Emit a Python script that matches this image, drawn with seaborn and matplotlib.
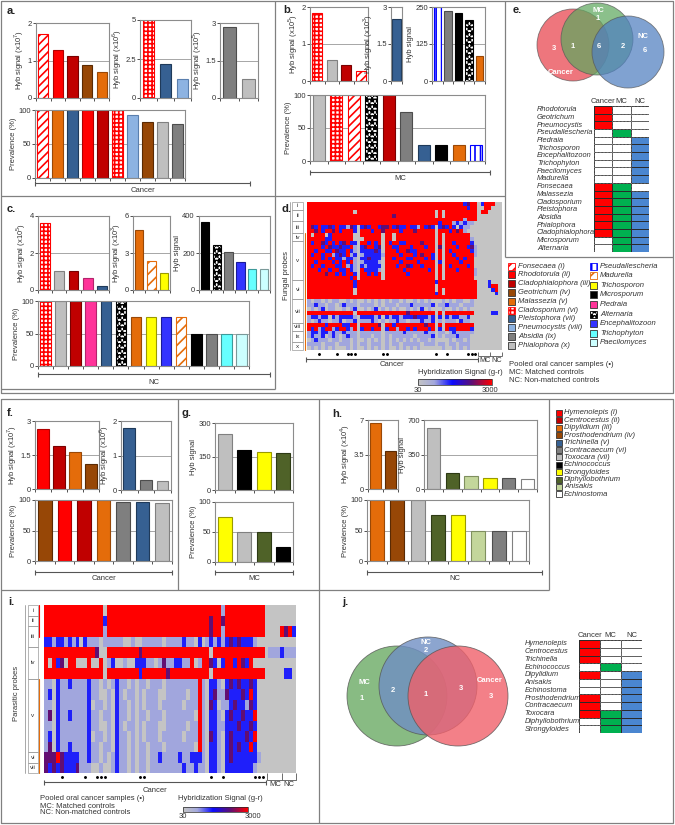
import matplotlib
matplotlib.use("Agg")
import matplotlib.pyplot as plt
from matplotlib.colors import LinearSegmentedColormap, ListedColormap
from matplotlib.patches import Circle, Rectangle
import numpy as np
import pandas as pd
import seaborn as sns

W, H = 675, 825

sns.set_theme(style="white")
plt.rcParams["font.family"] = ["Liberation Sans", "DejaVu Sans"]
plt.rcParams["hatch.linewidth"] = 1.2
plt.rcParams["mathtext.fontset"] = "custom"
plt.rcParams["mathtext.rm"] = "Liberation Sans"

# ---------------- data: fungi ----------------
a_sig7_names = ["Fonsecaea", "Rhodotorula", "Cladophialophora", "Geotrichum", "Malassezia"]
a_sig7_vals = [1.72, 1.28, 1.13, 0.89, 0.70]
a_sig6_names = ["Cladosporium", "Pleistophora", "Pneumocystis"]
a_sig6_vals = [5.0, 2.2, 1.2]
a_sig5_names = ["Absidia", "Phialophora"]
a_sig5_vals = [2.85, 0.75]
a_prev_names = ["Fonsecaea", "Malassezia", "Pleistophora", "Rhodotorula", "Cladophialophora",
                "Cladosporium", "Pneumocystis", "Geotrichum", "Phialophora", "Absidia"]
a_prev_vals = [100, 100, 100, 100, 100, 100, 93, 83, 82, 80]

b_sig5_names = ["Cladosporium", "Phialophora", "Cladophialophora", "Fonsecaea"]
b_sig5_vals = [1.85, 0.58, 0.42, 0.27]
b_sig3_names = ["Pleistophora"]
b_sig3_vals = [2.5]
b_sig_names = ["Pseudallescheria", "Absidia", "Microsporum", "Alternaria", "Malassezia"]
b_sig_vals = [250, 235, 230, 205, 85]
b_prev_names = ["Phialophora", "Cladosporium", "Fonsecaea", "Alternaria", "Cladophialophora",
                "Absidia", "Pleistophora", "Microsporum", "Malassezia", "Pseudallescheria"]
b_prev_vals = [100, 100, 100, 100, 100, 75, 25, 25, 25, 25]

c_sig5_names = ["Cladosporium", "Phialophora", "Cladophialophora", "Piedraia", "Pleistophora"]
c_sig5_vals = [3.6, 1.05, 1.02, 0.65, 0.2]
c_sig3_names = ["Malassezia", "Madurella", "Trichosporon"]
c_sig3_vals = [4.85, 2.35, 1.4]
c_sig_names = ["Microsporum", "Alternaria", "Absidia", "Encephalitozoon", "Trichophyton", "Paecilomyces"]
c_sig_vals = [370, 245, 205, 150, 115, 115]
c_prev_names = ["Cladosporium", "Phialophora", "Cladophialophora", "Piedraia", "Pleistophora",
                "Alternaria", "Malassezia", "Trichosporon", "Encephalitozoon", "Madurella",
                "Microsporum", "Absidia", "Trichophyton", "Paecilomyces"]
c_prev_vals = [100, 100, 100, 100, 100, 100, 75, 75, 75, 75, 50, 50, 50, 50]

e_probes = ["Rhodotorula", "Geotrichum", "Pneumocystis", "Pseudallescheria", "Piedraia",
            "Trichosporon", "Encephalitozoon", "Trichophyton", "Paecilomyces", "Madurella",
            "Fonsecaea", "Malassezia", "Cladosporium", "Pleistophora", "Absidia",
            "Phialophora", "Cladophialophora", "Microsporum", "Alternaria"]
e_cancer = [1, 1, 1, 0, 0, 0, 0, 0, 0, 0, 1, 1, 1, 1, 1, 1, 1, 0, 0]
e_mc = [0, 0, 0, 1, 0, 0, 0, 0, 0, 0, 1, 1, 1, 1, 1, 1, 1, 1, 1]
e_nc = [0, 0, 0, 0, 1, 1, 1, 1, 1, 1, 0, 1, 1, 1, 1, 1, 1, 1, 1]
e_venn_counts = {"cancer": "3", "c_mc": "1", "all": "6", "mc_nc": "2", "nc": "6", "mc": "1"}

# heatmap d (g=grey, l=light blue, b=blue, p=purple, r=red); 48 cancer | 3 MC 4 NC
d_rows = [
    "rrrrrrrr rrrrrrrr rrrrrrrr rrrrrrrr rrrrrrrr rrrrbprr | gbr rrgg",
    "rrrrrrrr rrrrrrrr rrrrrrrr rrrrrrrr rrrrrrrr rrrrrbrr | ggr rggg",
    "rrrrrrrr rrrrrgrr rrrrrrrr rrrrrrrr rrrrgrgr rrrrrrrr | grr gggg",
    "rrrrrrrr rrrrrrrr rrrrrrrr prrrrrrr rrrrgrgr rrrrrrrr | ggg gggg",
    "rrrrrrrr rrrrrrrr rrrrrrrr rrrrrrrr rrrrrrrr rrrrlrrr | ggg gggg",
    "rrrrrrrr rrrrrrrr rrrrrrrr rrrrrrrr rrrrrbrr rlblbllg | ggg gggg",
    "rpbrbbpb rbblpbgb pbrrbppr bpbbrbbl rbpbgbpb rbgbllgg | ggg gggg",
    "rrprbrrp rbrrrbgr rrbrrprr rrbrrrpr rrrrgrrr brprlggg | ggg gggg",
    "rgrrrgbr rrrrrggr rrrrrgrr grrrrrrr rrrrgrgr rrrrrrgg | ggg gggg",
    "rrrrrbbr rrrrrggg rrrrrgrr grrrrrrr rrrrgrgr rrrrrrlg | ggg gggg",
    "rbrrpbrb rbprbbgr rbrbrgrb rrbbrrrr prrrgrgr rbrrrrbg | ggg gggg",
    "rrrrbrpb bpbbrlgb prrbpgrr bbrrrbrr rbrrgpgr rrbrrbpl | ggg gggg",
    "rrbrrbbr pbbrblgb bbbpbgrr rbrrpbbr rrrrgrgr brrrrrbl | ggg gggg",
    "rbrrbrrl bpbrlbgl bbbbblrr rrbrrrbr prrbgrgr rbrrrrrl | ggg gggg",
    "rrrrbrbr bblbblgb bpbbbgrr brrrbbrr rbrbgrgr rrbrbrrg | ggg gggg",
    "rrbrrrrb rbrbrlgl bbbblgrr rrbrrrrb rrrrgbgr rrrbrrrg | ggg gggg",
    "rbrrbrrr bbrlblgb lbbbbgrr rbrrpbrr brrrgrgr brrrrbrg | ggg gggg",
    "rrrbrrbr rbbrblgr bbbblgrr rrrbrrrr rrbrgrgr rrbrrrrl | ggg gggg",
    "rrrrrprr brbrrbgr rbrbrgrr rrrrbrrr rrrrgrgr rrrrrrrl | ggg gggg",
    "rrrrrrrr rrrrbrgr rrrrrgrr rrrrrrrr rrrrgrgr rrrrrrrg | ggg gggg",
    "rrrrrrrr rrrrrbrr rrrrrrrr rrrrrrrr rrrrbrrr rrrrrrrr | ggg bggg",
    "rrrrrrrr rrrrrbrr rrrrrrrr rrrrrrrr rrrrgrrr rrrrrrrr | ggg brrg",
    "rrrrrrrr rrrrrgrr rrrrrrrr rrrrrrrr rrrrgrgr rrrrrrrr | ggg gbrg",
    "rrrrrrrr rrrrrgrr rrrrrrrr rrrrrrrr rrrrbrgr rrrrrrrr | ggg ggbg",
    "rrrrrrrr rrrrrrrr rrrrrrrr rrrrrrrr rrrrrrrr rrrrrrrr | ggg gggg",
    "lgllglgl lgglglgg lglglglg llglgglg lglggglg lgllgglg | ggg gggg",
    "llbllgll glblllgl lllglgll lglllbll lllbgllb lllglllg | ggg gggg",
    "glglbgll gglglbgg lglbglgl glgglglg bglggglg glglglgg | ggg gggg",
    "rrrrrrrr rrrrrgrr rrrrrrrr rrrrprrr rrrrgrgr rrrrrrrg | ggg gbbg",
    "lbblbbgb lbbbblgb bbblbgbl bblbbbpb bblbgbgb lbbllbgg | ggg gggg",
    "lglbllgl lbgllbgl llblglgl lbllglll bllbglgl llgbllgg | ggg gggg",
    "rrrrrbrr rrbbrrgr rrrrpgrr brrrrrrr rprrgrgr rrrrrrrg | ggg gggg",
    "rbrlbrrl brrblrgb rrbrrgbr rlrrbrbr rrbrgbgr bbrrrrbg | ggg gggg",
    "lbblbblb llblllgl lllllgll lllbllll lbllgllg lblllllg | ggg gggg",
    "lbllbglb lglbllgl llgllglg llllllgl lllbglgl llblllgg | ggg gggg",
    "glblllgl lgllglgg lglglglg lglglglg llglgggg lgllglgg | ggg gggg",
    "llllglll glllglgl lglllglg llglllll glllgllg llglllgg | ggg gggg",
    "glglglgl ggglglgg lglglglg glglglgl gggggglg glglglgg | ggg gggg",
]
d_groups = [2, 3, 3, 2, 10, 5, 6, 2, 3, 2]
d_group_labels = ["i", "ii", "iii", "iv", "v", "vi", "vii", "viii", "ix", "x"]
d_pooled = [3, 8, 11, 12, 13, 21, 22, 36, 39, 45, 46, 47]

# ---------------- data: parasites ----------------
f_sig7_names = ["Hymenolepis", "Centrocestus", "Dipylidium", "Prosthodendrium"]
f_sig7_vals = [2.65, 1.9, 1.65, 1.1]
f_sig6_names = ["Trichinella", "Contracaecum", "Toxocara"]
f_sig6_vals = [1.8, 0.3, 0.27]
f_prev_names = ["Prosthodendrium", "Hymenolepis", "Centrocestus", "Dipylidium",
                "Contracaecum", "Trichinella", "Toxocara"]
f_prev_vals = [100, 100, 100, 100, 97, 97, 95]

g_sig_names = ["Toxocara", "Echinococcus", "Strongyloides", "Diphyllobothrium"]
g_sig_vals = [250, 178, 172, 165]
g_prev_names = ["Strongyloides", "Toxocara", "Diphyllobothrium", "Echinococcus"]
g_prev_vals = [75, 50, 50, 25]

h_sig4_names = ["Dipylidium", "Prosthodendrium"]
h_sig4_vals = [6.7, 3.9]
h_sig_names = ["Toxocara", "Diphyllobothrium", "Anisakis", "Strongyloides", "Contracaecum", "Echinostoma"]
h_sig_vals = [620, 160, 130, 115, 110, 100]
h_prev_names = ["Dipylidium", "Prosthodendrium", "Toxocara", "Diphyllobothrium",
                "Strongyloides", "Anisakis", "Contracaecum", "Echinostoma"]
h_prev_vals = [100, 100, 100, 75, 75, 50, 50, 50]

j_probes = ["Hymenolepis", "Centrocestus", "Trichinella", "Echinococcus", "Dipylidium",
            "Anisakis", "Echinostoma", "Prosthodendrium", "Contracaecum", "Toxocara",
            "Diphyllobothrium", "Strongyloides"]
j_cancer = [1, 1, 1, 0, 1, 0, 0, 1, 1, 1, 0, 0]
j_mc = [0, 0, 0, 1, 0, 0, 0, 0, 0, 1, 1, 1]
j_nc = [0, 0, 0, 0, 1, 1, 1, 1, 1, 1, 1, 1]

# heatmap i: 56 cancer | 4 MC 4 NC
i_rows = [
    "rrrrrrrr rrrrrrrg rrrrrrrr rrrrrrrr rrrrrrrr rrrrrlrr rrrrrrrr | gggg gggg",
    "rrrrrrrr rrrrrrrb rrrrrrrr rrrrrrrr rrrrrrrr rrprrprr rrrrrrrr | gggg gggg",
    "rrrrrrrr rrrrrrrl rrrrrrrr rrrrrrrr rrrrrrrr rrprrlrr rrrrrrrr | gggg rprb",
    "bblbblbl bgblllgl llllgglg glllllgl lllbllgb glblblbp bpbbblgg | gggg gggg",
    "rrrrrrrr rrrrrpgg rrrrrrrr prrrrrrr rrrrrrrr rrgrrrrr rrrrrrrr | glll blll",
    "rgrbpgrr gggrggrg lbgglggb bbllglpl lbbllrgl rrpbgbrr brpbrggg | gggg gggg",
    "rrrrrrrr rrrrrrrg rrrrrrrr brrrrrrp rrrrrrrr rrgrrrrr rrrrrrrr | gggg gbbg",
    "llgbllbl lllbllgl glbllglg llglllgl lllllllr lgbblgbp bpbbpbgg | gggg gggg",
    "lbgbllll lllbllgg lgblgllg lglllggl llllgllr lgbpllpb bbpbrbgg | gggg gggg",
    "llgbllll lllbgllg lgbllglg lglllgll lllglllr lgpbgllb pbblpbgg | gggg gggg",
    "lpgbllbl lllbllgl lgbllglg llglllgl llllllgr lgbblgbp bbpbbrgg | gggg gggg",
    "llgbllll lllbllgg lgblgllg lglllggl llllgllr lgbbllbb bpbbpbgg | gggg gggg",
    "lbgbllll lllbgllg lgbllglg lglllgll lllglllr lgpblgbp bbbpbrgg | gggg gggg",
    "lpgbllbl lllbllgl lgbllglg llglllgl llllllgr lgbblgbp bpbbrbgg | gggg gggg",
    "ppprpbbb bllbllgl glbllglg llgllbll llbllbbb lgbblgbp bbbbbblg | gggg gggg",
    "pbpbpbbb plllgglg glbllglg llglllll lllbllbl lgbblgbb bbbbblgg | gggg gggg",
]
i_groups = [1, 1, 2, 3, 7, 1, 1]
i_group_labels = ["i", "ii", "iii", "iv", "v", "vi", "vii"]
i_pooled = [4, 10, 13, 14, 15, 24, 25, 42, 45, 53, 54, 55]

LEVELS = {"g": 30, "l": 700, "b": 1300, "p": 2200, "r": 3000}

# ---------------- styles ----------------
STYLE = {
    "Fonsecaea": ("white", "#ff0000", "////"),
    "Rhodotorula": ("#ff0000", "#b00000", ""),
    "Cladophialophora": ("#c00000", "#7a0000", ""),
    "Geotrichum": ("#974706", "#5a2a03", ""),
    "Malassezia": ("#e46c0a", "#9a4806", ""),
    "Cladosporium": ("white", "#ff0000", "++++"),
    "Pleistophora": ("#366092", "#1f3a5a", ""),
    "Pneumocystis": ("#8db3e2", "#5a7fae", ""),
    "Absidia": ("#7f7f7f", "#4d4d4d", ""),
    "Phialophora": ("#bfbfbf", "#808080", ""),
    "Pseudallescheria": ("white", "#0000ff", "|||"),
    "Madurella": ("white", "#e46c0a", "///"),
    "Trichosporon": ("#ffff00", "#9a9a00", ""),
    "Microsporum": ("#000000", "#000000", ""),
    "Piedraia": ("#ff3399", "#b3246b", ""),
    "Alternaria": ("white", "#000000", "***"),
    "Encephalitozoon": ("#3333ff", "#1a1a99", ""),
    "Trichophyton": ("#66ffff", "#3d9999", ""),
    "Paecilomyces": ("#ccffff", "#7a9999", ""),
    "Hymenolepis": ("#ff0000", "#b00000", ""),
    "Centrocestus": ("#c00000", "#7a0000", ""),
    "Dipylidium": ("#e46c0a", "#9a4806", ""),
    "Prosthodendrium": ("#974706", "#5a2a03", ""),
    "Trichinella": ("#366092", "#1f3a5a", ""),
    "Contracaecum": ("#7f7f7f", "#4d4d4d", ""),
    "Toxocara": ("#bfbfbf", "#808080", ""),
    "Echinococcus": ("#000000", "#000000", ""),
    "Strongyloides": ("#ffff00", "#9a9a00", ""),
    "Diphyllobothrium": ("#4f6228", "#2d3a15", ""),
    "Anisakis": ("#c3d69b", "#7f8f5f", ""),
    "Echinostoma": ("#ffffff", "#808080", ""),
}
HYB = LinearSegmentedColormap.from_list(
    "hyb", [(0, "#c4c4c4"), (0.22, "#a3a8dc"), (0.46, "#0a0aff"), (0.72, "#5a0f78"), (1, "#ff0000")])
TABLE_CMAP = ListedColormap(["white", "#ff0000", "#00b050", "#4a86d0"])
LINE = "#808080"
TXT = "#333333"

fig = plt.figure(figsize=(W / 100, H / 100), dpi=100)


def px_axes(x0, y0, x1, y1):
    return fig.add_axes([x0 / W, 1 - y1 / H, (x1 - x0) / W, (y1 - y0) / H])


def bar_panel(box, names, vals, ymax, ticklabels, ylabel="", width=0.7):
    ax = px_axes(*box)
    df = pd.DataFrame({"probe": names, "value": vals})
    sns.barplot(data=df, x="probe", y="value", order=names, color="white",
                width=width, errorbar=None, ax=ax)
    for patch, name in zip(ax.patches, names):
        face, edge, hatch = STYLE[name]
        patch.set_facecolor(face)
        patch.set_edgecolor(edge)
        patch.set_hatch(hatch)
        patch.set_linewidth(0.8)
    n = len(names)
    ax.set_xlim(-0.5, n - 0.5)
    ax.set_ylim(0, ymax)
    ax.set_yticks([0, ymax / 2, ymax], ticklabels)
    ax.set_xticks(np.arange(n + 1) - 0.5, [""] * (n + 1))
    ax.axhline(ymax / 2, color="#a6a6a6", lw=0.7, zorder=0)
    ax.set_xlabel("")
    ax.set_ylabel(ylabel, fontsize=5.5, labelpad=1, color=TXT)
    ax.tick_params(axis="both", labelsize=5.5, length=2, width=0.6, pad=1,
                   colors=TXT, bottom=True, left=True)
    for s in ax.spines.values():
        s.set_color("#8c8c8c")
        s.set_linewidth(0.8)
    return ax


def to_matrix(rows):
    clean = [r.replace(" ", "").replace("|", "") for r in rows]
    n = max(len(r) for r in clean)
    return np.array([[LEVELS[ch] for ch in r.ljust(n, "g")] for r in clean], dtype=float)


def heat_panel(box, rows, groups, labels, pooled, box_left, box_w, dot_off):
    mat = to_matrix(rows)
    ax = px_axes(*box)
    sns.heatmap(mat, ax=ax, cmap=HYB, vmin=30, vmax=3000, cbar=False,
                xticklabels=False, yticklabels=False)
    nrow = mat.shape[0]
    ax.scatter(np.array(pooled) + 0.5, [nrow + dot_off] * len(pooled), s=1.2,
               color="black", clip_on=False, zorder=5)
    start = 0
    for size, lab in zip(groups, labels):
        ax.add_patch(Rectangle((box_left, start), box_w, size, fill=False, ec="#9a9a9a",
                               lw=0.5, clip_on=False))
        ax.text(box_left + box_w / 2, start + size / 2, lab, fontsize=4.5, ha="center",
                va="center", color=TXT, clip_on=False)
        start += size
    ax.plot([box_left - 0.6, box_left - 0.6], [0, nrow], color="#9a9a9a", lw=0.6, clip_on=False)
    return ax


def table_panel(box, probes, cancer, mc, nc, label_pad):
    mat = np.column_stack([np.array(cancer) * 1, np.array(mc) * 2, np.array(nc) * 3])
    ax = px_axes(*box)
    sns.heatmap(mat, ax=ax, cmap=TABLE_CMAP, vmin=-0.5, vmax=3.5, mask=(mat == 0), cbar=False,
                linewidths=0.6, linecolor="#2a2a2a", xticklabels=["Cancer", "MC", "NC"],
                yticklabels=probes)
    for r in range(mat.shape[0]):
        for c in range(mat.shape[1]):
            if mat[r, c] == 0:
                ax.add_patch(Rectangle((c, r), 1, 1, fill=False, ec="#8c8c8c", lw=0.5, ls=(0, (1, 1))))
    ax.xaxis.tick_top()
    ax.tick_params(axis="x", length=0, pad=1, labelsize=5.5, colors=TXT)
    ax.tick_params(axis="y", length=0, pad=label_pad, labelsize=5.3, colors=TXT)
    for lbl in ax.get_yticklabels():
        lbl.set_style("italic")
        lbl.set_rotation(0)
        lbl.set_horizontalalignment("left")
    return ax


# ---------------- panels a, b, c ----------------
bar_panel((36, 23, 109, 98), a_sig7_names, a_sig7_vals, 2, ["0", "1", "2"], "Hyb signal (x10$^{7}$)")
bar_panel((140, 20, 191, 98), a_sig6_names, a_sig6_vals, 5, ["0", "2.5", "5"], "Hyb signal (x10$^{6}$)")
bar_panel((220, 23, 258, 98), a_sig5_names, a_sig5_vals, 3, ["0", "1.5", "3"], "Hyb signal (x10$^{5}$)")
bar_panel((35, 110, 185, 178), a_prev_names, a_prev_vals, 100, ["0", "50", "100"], "Prevalence (%)")

bar_panel((310, 7, 368, 81), b_sig5_names, b_sig5_vals, 2, ["0", "1", "2"], "Hyb signal (x10$^{5}$)")
bar_panel((391, 7, 402, 81), b_sig3_names, b_sig3_vals, 3, ["0", "1.5", "3"], "Hyb signal (x10$^{3}$)", width=0.8)
bar_panel((432, 7, 485, 81), b_sig_names, b_sig_vals, 250, ["0", "125", "250"], "Hyb signal")
bar_panel((310, 95, 485, 161), b_prev_names, b_prev_vals, 100, ["0", "50", "100"], "Prevalence (%)")

bar_panel((38, 216, 109, 290), c_sig5_names, c_sig5_vals, 4, ["0", "2", "4"], "Hyb signal (x10$^{5}$)")
bar_panel((133, 216, 170, 290), c_sig3_names, c_sig3_vals, 6, ["0", "3", "6"], "Hyb signal (x10$^{3}$)")
bar_panel((199, 216, 270, 290), c_sig_names, c_sig_vals, 400, ["0", "200", "400"], "Hyb signal")
bar_panel((38, 301, 249, 366), c_prev_names, c_prev_vals, 100, ["0", "50", "100"], "Prevalence (%)")

# ---------------- panels f, g, h ----------------
bar_panel((35, 421, 99, 489), f_sig7_names, f_sig7_vals, 3, ["0", "1.5", "3"], "Hyb signal (x10$^{7}$)")
bar_panel((121, 421, 171, 490), f_sig6_names, f_sig6_vals, 2, ["0", "1", "2"], "Hyb signal (x10$^{6}$)")
bar_panel((35, 500, 172, 561), f_prev_names, f_prev_vals, 100, ["0", "50", "100"], "Prevalence (%)")
bar_panel((215, 423, 293, 490), g_sig_names, g_sig_vals, 300, ["0", "150", "300"], "Hyb signal")
bar_panel((215, 502, 293, 562), g_prev_names, g_prev_vals, 100, ["0", "50", "100"], "Prevalence (%)")
bar_panel((368, 420, 398, 489), h_sig4_names, h_sig4_vals, 7, ["0", "3.5", "7"], "Hyb signal (x10$^{4}$)")
bar_panel((424, 420, 537, 489), h_sig_names, h_sig_vals, 700, ["0", "350", "700"], "Hyb signal")
bar_panel((367, 500, 529, 561), h_prev_names, h_prev_vals, 100, ["0", "50", "100"], "Prevalence (%)")

# ---------------- heatmaps d and i ----------------
hd = heat_panel((307, 202, 502, 350), d_rows, d_groups, d_group_labels, d_pooled, -4.2, 3.2, 1.0)
hi = heat_panel((44, 605, 296, 773), i_rows, i_groups, i_group_labels, i_pooled, -4.1, 2.6, 0.4)
hi.plot([-1.2, -1.2], [0, 3], color="#ff0000", lw=0.8, clip_on=False)
hi.plot([-1.2, -1.2], [7, 16], color="#e46c0a", lw=0.8, clip_on=False)
hd.plot([-0.6, -0.6], [8, 38], color="#e46c0a", lw=0.8, clip_on=False)

for (x0, y0, x1, y1), src in [((418, 379, 492, 385), hd), ((183, 807, 248, 812), hi)]:
    cax = px_axes(x0, y0, x1, y1)
    cb = fig.colorbar(src.collections[0], cax=cax, orientation="horizontal")
    cb.set_ticks([])
    cb.outline.set_linewidth(0.5)

# ---------------- tables e and j ----------------
table_panel((594, 106, 649, 252), e_probes, e_cancer, e_mc, e_nc, 41)
table_panel((579, 640, 642, 733), j_probes, j_cancer, j_mc, j_nc, 39)

# ---------------- overlay: frames, text, venns, legends ----------------
ov = fig.add_axes([0, 0, 1, 1])
ov.set_xlim(0, W)
ov.set_ylim(H, 0)
ov.axis("off")


def line(xs, ys, **kw):
    ov.plot(xs, ys, color=kw.pop("color", LINE), lw=kw.pop("lw", 0.9), solid_capstyle="butt", **kw)


# frames
line([1, 673, 673, 1, 1], [1, 1, 393, 393, 1])
line([275, 275], [1, 389])
line([1, 505], [196, 196])
line([505, 505], [1, 257])
line([505, 673], [257, 257])
line([1, 275], [389, 389])
line([1, 673, 673, 1, 1], [399, 399, 823, 823, 399])
line([178, 178], [399, 590])
line([319, 319], [399, 823])
line([549, 549], [399, 590])
line([1, 549], [590, 590])

for lab, (x, y) in {"a.": (7, 11), "b.": (283, 10), "c.": (7, 209), "d.": (282, 209),
                    "e.": (513, 10), "f.": (7, 413), "g.": (181, 413), "h.": (332, 414),
                    "i.": (8, 602), "j.": (342, 602)}.items():
    ov.text(x, y, lab, fontsize=8, fontweight="bold", va="center", color="#222222")


def bracket(x0, x1, y, label, ty):
    line([x0, x1], [y, y], color="#555555", lw=0.8)
    line([x0, x0], [y - 2.5, y + 2.5], color="#555555", lw=0.8)
    line([x1, x1], [y - 2.5, y + 2.5], color="#555555", lw=0.8)
    ov.text((x0 + x1) / 2, ty, label, fontsize=5.5, ha="center", va="center", color=TXT)


bracket(35, 250, 183, "Cancer", 190)
bracket(310, 490, 172, "MC", 178)
bracket(38, 270, 374, "NC", 383)
bracket(35, 172, 572, "Cancer", 579)
bracket(215, 293, 572, "MC", 579)
bracket(367, 542, 572, "NC", 579)
bracket(306, 478, 359, "Cancer", 365)
bracket(44, 266, 782, "Cancer", 790)

# MC / NC markers under heatmaps
line([478, 478], [352, 356], color="#555555", lw=0.6)
line([478, 502], [356, 356], color="#555555", lw=0.6)
line([490, 490], [352, 356], color="#555555", lw=0.6)
line([502, 502], [352, 356], color="#555555", lw=0.6)
ov.text(485, 360, "MC", fontsize=5.2, ha="center", va="center", color=TXT)
ov.text(497, 360, "NC", fontsize=5.2, ha="center", va="center", color=TXT)
line([267, 267, 296, 296], [773, 780, 780, 773], color="#555555", lw=0.6)
line([282, 282], [773, 780], color="#555555", lw=0.6)
ov.text(275, 785, "MC", fontsize=5.5, ha="center", va="center", color=TXT)
ov.text(289, 785, "NC", fontsize=5.5, ha="center", va="center", color=TXT)

ov.text(287, 276, "Fungal probes", fontsize=5.5, rotation=90, ha="center", va="center", color=TXT)
ov.text(17, 693, "Parasitic probes", fontsize=5.5, rotation=90, ha="center", va="center", color=TXT)

for x, y, t30, t3000 in [(418, 373, (418, 391), (490, 390)), (178, 799, (183, 816), (253, 816))]:
    ov.text(x, y, "Hybridization Signal (g-r)", fontsize=5.5, va="center", color=TXT)
    ov.text(*t30, "30", fontsize=5.5, ha="center", va="center", color=TXT)
    ov.text(*t3000, "3000", fontsize=5.5, ha="center", va="center", color=TXT)

notes = ["Pooled oral cancer samples (\u2022)", "MC: Matched controls", "NC: Non-matched controls"]
for k, t in enumerate(notes):
    ov.text(509, 365 + 8 * k, t, fontsize=5.5, va="center", color=TXT)
    ov.text(40, 799 + 7 * k, t, fontsize=5.5, va="center", color=TXT)

# venn e
for cx, cy, r, col in [(573, 45, 36, "#e8414b"), (597, 39, 36, "#5fa85f"), (628, 52, 36, "#4f7fc0")]:
    ov.add_patch(Circle((cx, cy), r, fc=col, ec="#555555", lw=0.6, alpha=0.72))
venn_e_pos = {"cancer": (554, 49), "c_mc": (573, 47), "all": (599, 46), "mc_nc": (623, 47),
              "nc": (645, 51), "mc": (598, 18)}
for key, (x, y) in venn_e_pos.items():
    ov.text(x, y, e_venn_counts[key], fontsize=5.5, fontweight="bold", color="white", ha="center", va="center")
ov.text(561, 72, "Cancer", fontsize=5.5, fontweight="bold", color="white", ha="center", va="center")
ov.text(598, 11, "MC", fontsize=5.5, fontweight="bold", color="white", ha="center", va="center")
ov.text(643, 36, "NC", fontsize=5.5, fontweight="bold", color="white", ha="center", va="center")

# venn j
for cx, cy, r, col in [(397, 696, 50, "#6aaa64"), (428, 686, 49, "#6f8fc4"), (458, 696, 50, "#f0606a")]:
    ov.add_patch(Circle((cx, cy), r, fc=col, ec="#555555", lw=0.6, alpha=0.8))
for x, y, t in [(426, 643, "NC"), (426, 651, "2"), (364, 683, "MC"), (362, 699, "1"),
                (393, 691, "2"), (426, 695, "1"), (461, 689, "3"), (490, 681, "Cancer"), (491, 697, "3")]:
    ov.text(x, y, t, fontsize=5.5, fontweight="bold", color="white", ha="center", va="center")


# legends
def swatch(x, y, name, label):
    face, edge, hatch = STYLE[name]
    ov.add_patch(Rectangle((x, y - 3.5), 7, 7, facecolor=face, edgecolor=edge if hatch else "#333333",
                           hatch=hatch, lw=0.6))
    ov.text(x + 10, y, label, fontsize=5.5, style="italic", va="center", color=TXT)


d_legend_left = [("Fonsecaea", "Fonsecaea (i)"), ("Rhodotorula", "Rhodotorula (ii)"),
                 ("Cladophialophora", "Cladophialophora (iii)"), ("Geotrichum", "Geotrichum (iv)"),
                 ("Malassezia", "Malassezia (v)"), ("Cladosporium", "Cladosporium (vi)"),
                 ("Pleistophora", "Pleistophora (vii)"), ("Pneumocystis", "Pneumocystis (viii)"),
                 ("Absidia", "Absidia (ix)"), ("Phialophora", "Phialophora (x)")]
d_legend_right = ["Pseudallescheria", "Madurella", "Trichosporon", "Microsporum", "Piedraia",
                  "Alternaria", "Encephalitozoon", "Trichophyton", "Paecilomyces"]
for k, (name, label) in enumerate(d_legend_left):
    swatch(508, 266 + 8.8 * k, name, label)
for k, name in enumerate(d_legend_right):
    swatch(590, 266 + 9.6 * k, name, name)

h_legend = [("Hymenolepis", "Hymenolepis (i)"), ("Centrocestus", "Centrocestus (ii)"),
            ("Dipylidium", "Dipylidium (iii)"), ("Prosthodendrium", "Prosthodendrium (iv)"),
            ("Trichinella", "Trichinella (v)"), ("Contracaecum", "Contracaecum (vi)"),
            ("Toxocara", "Toxocara (vii)"), ("Echinococcus", "Echinococcus"),
            ("Strongyloides", "Strongyloides"), ("Diphyllobothrium", "Diphyllobothrium"),
            ("Anisakis", "Anisakis"), ("Echinostoma", "Echinostoma")]
for k, (name, label) in enumerate(h_legend):
    ov.add_patch(Rectangle((556, 413 + 7.4 * k - 3), 6, 6, facecolor=STYLE[name][0],
                           edgecolor="#333333", lw=0.6))
    ov.text(564, 413 + 7.4 * k, label, fontsize=5.5, style="italic", va="center", color=TXT)

fig.savefig("out.png", dpi=100)
